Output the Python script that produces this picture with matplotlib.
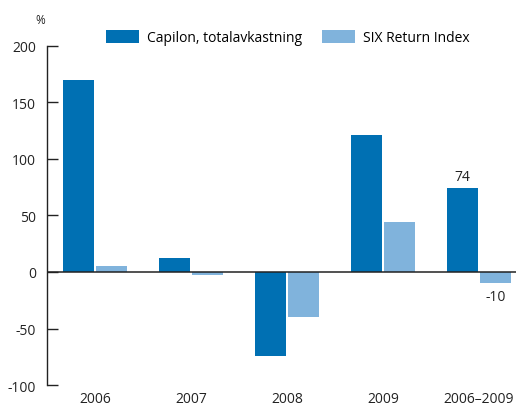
import matplotlib.pyplot as plt
import numpy as np

plt.rcParams['font.family'] = ['Open Sans', 'DejaVu Sans']
plt.rcParams['axes.unicode_minus'] = False

categories = ['2006', '2007', '2008', '2009', '2006–2009']
capilon = [170, 12, -74, 121, 74]
six_index = [5, -3, -40, 44, -10]

dark = '#0070b3'
light = '#80b3dc'

fig = plt.figure(figsize=(5.16, 4.10), dpi=100)
ax = fig.add_axes([0.091, 0.0585, 0.909, 0.827])

x = np.arange(len(categories))
w = 0.32
ax.bar(x - 0.17, capilon, w, color=dark, label='Capilon, totalavkastning', zorder=2)
ax.bar(x + 0.17, six_index, w, color=light, label='SIX Return Index', zorder=2)
ax.axhline(0, color='#222222', linewidth=1.1, zorder=3)

# only the last pair gets value labels
ax.text(x[-1] - 0.17, capilon[-1] + 4, str(capilon[-1]), ha='center', va='bottom', fontsize=10, color='#222222')
ax.text(x[-1] + 0.17, six_index[-1] - 5, str(six_index[-1]), ha='center', va='top', fontsize=10, color='#222222')

ax.set_xlim(-0.5, 4.385)
ax.set_ylim(-100, 200)
ax.set_yticks([-100, -50, 0, 50, 100, 150, 200])
ax.set_xticks(x)
ax.set_xticklabels(categories)
ax.tick_params(axis='y', direction='in', length=8, width=1, colors='#222222', labelsize=10, pad=8)
ax.tick_params(axis='x', length=0, labelsize=10, colors='#222222', pad=4)
for s in ['top', 'right', 'bottom']:
    ax.spines[s].set_visible(False)
ax.spines['left'].set_color('#222222')
ax.spines['left'].set_linewidth(1)

fig.text(40 / 516, 1 - 20 / 410, '%', ha='center', va='center', fontsize=8.5, color='#222222')

ax.legend(loc='lower left', bbox_to_anchor=(0.113, 0.985), ncol=2, frameon=False, fontsize=10,
          handlelength=2.4, handleheight=1.1, handletextpad=0.6, columnspacing=1.4, borderaxespad=0)

fig.savefig('out.png', dpi=100)
